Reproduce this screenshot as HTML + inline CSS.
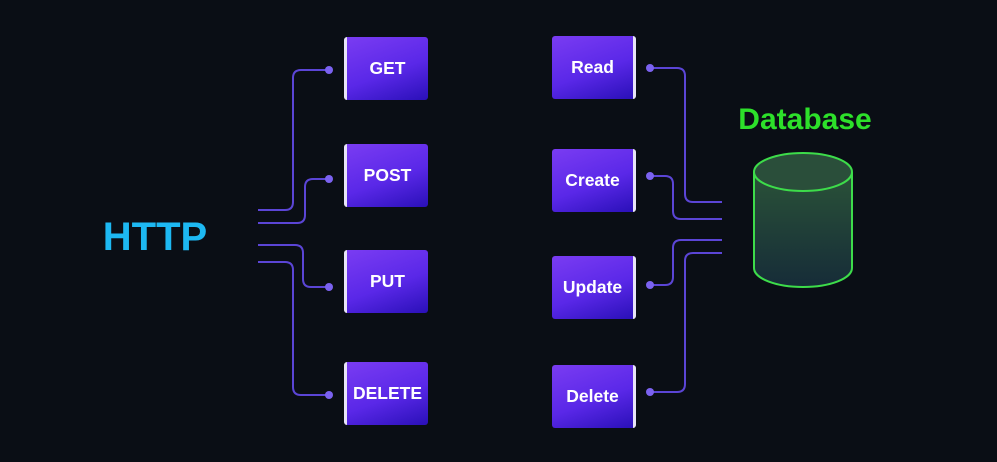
<!DOCTYPE html>
<html><head><style>
html,body{margin:0;padding:0;background:#0a0e15;width:997px;height:462px;overflow:hidden;font-family:"Liberation Sans",sans-serif}
.b{position:absolute;width:84px;height:63px;border-radius:3px;background:linear-gradient(160deg,#7a3cf2 0%,#5a28e8 55%,#2a10b8 100%);color:#fff;font-weight:bold;font-size:17.5px;display:flex;align-items:center;justify-content:center;box-sizing:border-box}
.l{border-left:3px solid #e8e4f8}
.r{border-right:3px solid #e8e4f8}
</style></head><body>
<svg width="997" height="462" style="position:absolute;left:0;top:0">
<g fill="none" stroke="#5b45d6" stroke-width="2">
<path d="M258 210 H285 Q293 210 293 202 V78 Q293 70 301 70 H329"/>
<path d="M258 223 H297 Q305 223 305 215 V187 Q305 179 313 179 H329"/>
<path d="M258 245 H295 Q303 245 303 253 V279 Q303 287 311 287 H329"/>
<path d="M258 262 H285 Q293 262 293 270 V387 Q293 395 301 395 H329"/>
<path d="M650 68 H677 Q685 68 685 76 V194 Q685 202 693 202 H722"/>
<path d="M650 176 H665 Q673 176 673 184 V211 Q673 219 681 219 H722"/>
<path d="M650 285 H665 Q673 285 673 277 V248 Q673 240 681 240 H722"/>
<path d="M650 392 H677 Q685 392 685 384 V261 Q685 253 693 253 H722"/>
</g>
<g fill="#7b62f0">
<circle cx="329" cy="70" r="4"/><circle cx="329" cy="179" r="4"/><circle cx="329" cy="287" r="4"/><circle cx="329" cy="395" r="4"/>
<circle cx="650" cy="68" r="4"/><circle cx="650" cy="176" r="4"/><circle cx="650" cy="285" r="4"/><circle cx="650" cy="392" r="4"/>
</g>
<defs><linearGradient id="cg" x1="0" y1="0" x2="0" y2="1"><stop offset="0" stop-color="#2a5238"/><stop offset="1" stop-color="#162c38"/></linearGradient></defs>
<path d="M754 172 V268 A49 19 0 0 0 852 268 V172" fill="url(#cg)" stroke="#3ddc4a" stroke-width="2"/>
<ellipse cx="803" cy="172" rx="49" ry="19" fill="#2a4e3a" stroke="#3ddc4a" stroke-width="2"/>
<text x="155" y="250" text-anchor="middle" font-family="Liberation Sans" font-weight="bold" font-size="40" fill="#1db8f2">HTTP</text>
<text x="805" y="129" text-anchor="middle" font-family="Liberation Sans" font-weight="bold" font-size="30" fill="#2de02a">Database</text>
</svg>
<div class="b l" style="left:344px;top:37px">GET</div>
<div class="b l" style="left:344px;top:144px">POST</div>
<div class="b l" style="left:344px;top:250px">PUT</div>
<div class="b l" style="left:344px;top:362px">DELETE</div>
<div class="b r" style="left:552px;top:36px">Read</div>
<div class="b r" style="left:552px;top:149px">Create</div>
<div class="b r" style="left:552px;top:256px">Update</div>
<div class="b r" style="left:552px;top:365px">Delete</div>
</body></html>
